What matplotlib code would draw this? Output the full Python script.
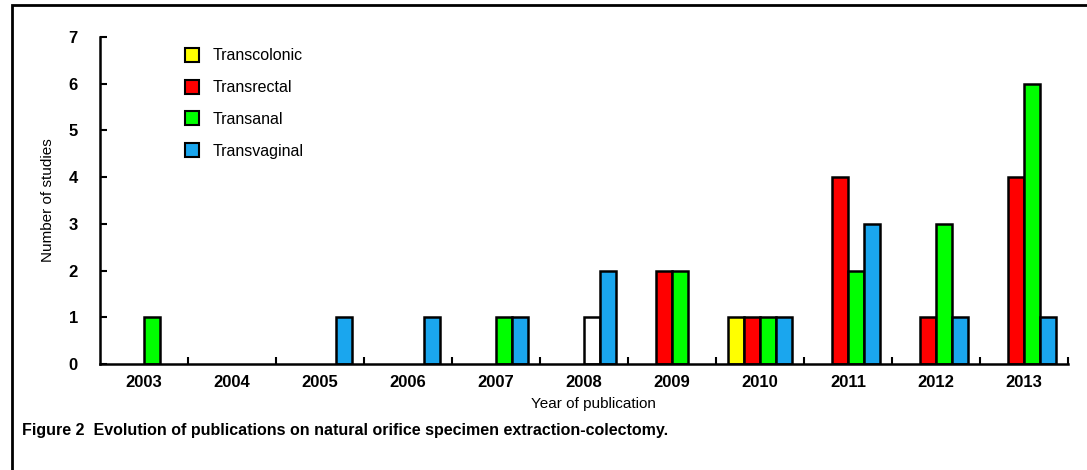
import matplotlib
matplotlib.use('Agg')
import matplotlib.pyplot as plt
import numpy as np
from matplotlib.lines import Line2D

plt.rcParams['font.family'] = ['Liberation Sans', 'DejaVu Sans']

years = ['2003', '2004', '2005', '2006', '2007', '2008', '2009', '2010', '2011', '2012', '2013']
series = ['Transcolonic', 'Transrectal', 'Transanal', 'Transvaginal']
transcolonic = [0, 0, 0, 0, 0, 0, 0, 1, 0, 0, 0]
transrectal = [0, 0, 0, 0, 0, 0, 2, 1, 4, 1, 4]
transanal = [1, 0, 0, 0, 1, 1, 2, 1, 2, 3, 6]
transvaginal = [0, 0, 1, 1, 1, 2, 0, 1, 3, 1, 1]
colors = ['#FFFF00', '#FF0000', '#00FF00', '#1AA6EE']

fig = plt.figure(figsize=(10.87, 4.70), dpi=100)
ax = fig.add_axes([100 / 1087, 1 - 364 / 470, 968 / 1087, 327 / 470])

x = np.arange(len(years))
w = 0.182
data = [transcolonic, transrectal, transanal, transvaginal]
for i, vals in enumerate(data):
    cols = [colors[i]] * len(vals)
    if i == 2:
        cols[5] = 'white'  # 2008 transanal bar is unfilled in the original
    pos = x + (i - 1.5) * w
    for p, v, c in zip(pos, vals, cols):
        if v > 0:
            ax.bar(p, v, width=w, color=c, edgecolor='black', linewidth=1.8)

ax.set_xlim(-0.5, len(years) - 0.5)
ax.set_ylim(0, 7)
ax.set_yticks(range(8))
ax.tick_params(axis='y', direction='in', length=5, width=1.5, labelsize=12, pad=16)
ax.set_xticks(x)
ax.set_xticklabels(years)
ax.tick_params(axis='x', which='major', length=0, labelsize=12, pad=8)
# small ticks between the year groups
ax.set_xticks(np.arange(len(years)) + 0.5, minor=True)
ax.tick_params(axis='x', which='minor', direction='in', length=5, width=1.5)
for lab in ax.get_xticklabels() + ax.get_yticklabels():
    lab.set_fontweight('bold')

for s in ['top', 'right']:
    ax.spines[s].set_visible(False)
for s in ['left', 'bottom']:
    ax.spines[s].set_linewidth(1.8)

ax.set_xlabel('Year of publication', fontsize=11, labelpad=5)
ax.xaxis.label.set_position((493 / 968, 0))
ax.set_ylabel('Number of studies', fontsize=11, labelpad=10)

handles = [Line2D([], [], marker='s', linestyle='none', markersize=10,
                  markerfacecolor=c, markeredgecolor='black', markeredgewidth=1.5)
           for c in colors]
ax.legend(handles, series, loc='upper left', bbox_to_anchor=(170 / 1087, 1 - 34 / 470),
          bbox_transform=fig.transFigure, frameon=False, fontsize=11.5,
          labelspacing=1.05, handletextpad=0.75, handlelength=1.0)

fig.text(22 / 1087, 1 - 430 / 470,
         'Figure 2  Evolution of publications on natural orifice specimen extraction-colectomy.',
         fontsize=11.5, fontweight='bold', va='center', ha='left')

# outer frame (left and top edges visible)
fig.add_artist(plt.Rectangle((12 / 1087, -0.1), 1.2, 1 - 5 / 470 + 0.1,
                             transform=fig.transFigure, fill=False,
                             edgecolor='black', linewidth=2))

fig.savefig('out.png', dpi=100)
